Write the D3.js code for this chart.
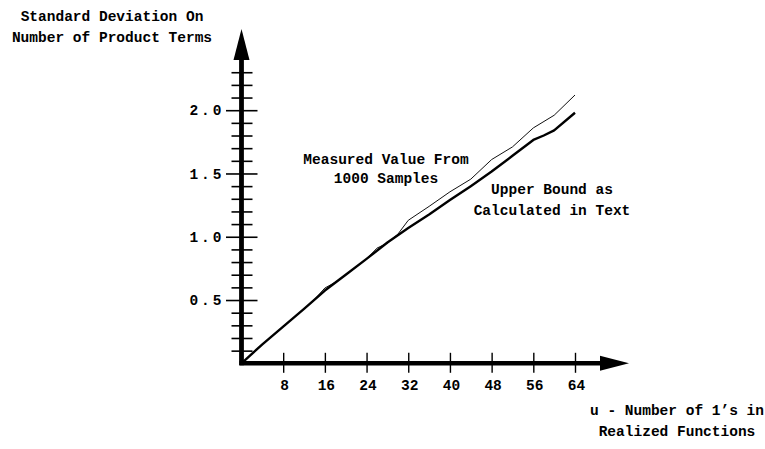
<!DOCTYPE html>
<html>
<head>
<meta charset="utf-8">
<script src="https://cdn.jsdelivr.net/npm/d3@7/dist/d3.min.js"></script>
<style>
  html, body { margin: 0; padding: 0; background: #ffffff; }
  svg { display: block; }
  text { font-family: "Liberation Mono", "DejaVu Sans Mono", monospace; font-weight: bold; fill: #000; }
</style>
</head>
<body>
<svg id="chart" width="765" height="449"></svg>
<script>
// u: number of 1's in the realized function
const boundU      = [0, 4, 8, 12, 16, 20, 24, 28, 32, 36, 40, 44, 48, 52, 56, 58, 60, 64];
const boundValues = [0, 0.15, 0.29, 0.43, 0.575, 0.70, 0.825, 0.955, 1.07, 1.175, 1.29, 1.40, 1.515, 1.64, 1.765, 1.80, 1.84, 1.98];

const measuredU      = [0, 4, 8, 12, 14, 16, 18, 20, 24, 26, 28, 30, 32, 36, 40, 44, 48, 52, 56, 60, 64];
const measuredValues = [0, 0.15, 0.29, 0.43, 0.505, 0.595, 0.64, 0.70, 0.825, 0.91, 0.95, 1.02, 1.13, 1.24, 1.355, 1.455, 1.61, 1.71, 1.86, 1.96, 2.12];

const xTicks = [8, 16, 24, 32, 40, 48, 56, 64];
const yTicks = d3.range(1, 24).map(i => i / 10);      // 0.1 .. 2.3
const yLabelTicks = [0.5, 1.0, 1.5, 2.0];

const svg = d3.select("#chart");

const x = d3.scaleLinear().domain([0, 64]).range([241.5, 575]);
const y = d3.scaleLinear().domain([0, 2]).range([363.3, 110.2]);

const x0 = x(0), y0 = y(0);
const isMajor = d => yLabelTicks.some(v => Math.abs(v - d) < 1e-9);

// ---- y axis: ticks crossing the shaft, labels at every 0.5 ----
const yAxis = d3.axisLeft(y)
  .tickValues(yTicks)
  .tickSize(0)
  .tickPadding(0)
  .tickFormat(d => isMajor(d) ? d3.format(".1f")(d) : "");

const gy = svg.append("g").attr("transform", `translate(${x0},0)`).call(yAxis);
gy.select(".domain").remove();
gy.selectAll(".tick line")
  .attr("x1", d => isMajor(d) ? -15.5 : -10)
  .attr("x2", d => isMajor(d) ? 16 : 11)
  .attr("stroke", "#000")
  .attr("stroke-width", 1.6);
gy.selectAll(".tick text")
  .attr("x", -17)
  .attr("dy", "0.33em")
  .attr("text-anchor", "end")
  .style("letter-spacing", "3px")
  .style("font-size", "14.5px")
  .style("font-family", null);

// ---- x axis: ticks crossing the shaft ----
const xAxis = d3.axisBottom(x)
  .tickValues(xTicks)
  .tickSize(0)
  .tickPadding(0)
  .tickFormat(d3.format("d"));

const gx = svg.append("g").attr("transform", `translate(0,${y0})`).call(xAxis);
gx.select(".domain").remove();
gx.selectAll(".tick line")
  .attr("y1", -10.5)
  .attr("y2", 9.5)
  .attr("stroke", "#000")
  .attr("stroke-width", 1.4);
gx.selectAll(".tick text")
  .attr("x", 1)
  .attr("y", 27)
  .attr("dy", 0)
  .attr("text-anchor", "middle")
  .style("font-size", "14.5px")
  .style("font-family", null);

// ---- heavy axis shafts with arrowheads ----
const axisG = svg.append("g");
axisG.append("line")
  .attr("x1", x0).attr("y1", y0 + 2)
  .attr("x2", x0).attr("y2", 58)
  .attr("stroke", "#000").attr("stroke-width", 4.8);
axisG.append("line")
  .attr("x1", x0 - 2).attr("y1", y0)
  .attr("x2", 602).attr("y2", y0)
  .attr("stroke", "#000").attr("stroke-width", 4.5);
axisG.append("path")
  .attr("d", `M${x0},29 L${x0 + 8},60 L${x0 - 8},60 Z`)
  .attr("fill", "#000");
axisG.append("path")
  .attr("d", `M629,${y0} L600,${y0 - 7.5} L600,${y0 + 7.5} Z`)
  .attr("fill", "#000");

// ---- curves ----
const line = d3.line()
  .x(d => x(d[0]))
  .y(d => y(d[1]));

const boundData = boundU.map((u, i) => [u, boundValues[i]]);
const measuredData = measuredU.map((u, i) => [u, measuredValues[i]]);

svg.append("path")
  .datum(measuredData)
  .attr("d", line)
  .attr("fill", "none")
  .attr("stroke", "#111")
  .attr("stroke-width", 1)
  .attr("stroke-linejoin", "round");

svg.append("path")
  .datum(boundData)
  .attr("d", line)
  .attr("fill", "none")
  .attr("stroke", "#000")
  .attr("stroke-width", 2.4)
  .attr("stroke-linejoin", "round");

// ---- labels ----
function block(lines, cx, baseline, step) {
  const t = svg.append("text")
    .attr("text-anchor", "middle")
    .style("font-size", "14.5px");
  lines.forEach((s, i) => {
    t.append("tspan").attr("x", cx).attr("y", baseline + i * step).text(s);
  });
}

block(["Standard Deviation On", "Number of Product Terms"], 112, 21, 20.7);
block(["Measured Value From", "1000 Samples"], 386, 163.5, 19.5);
block(["Upper Bound as", "Calculated in Text"], 552, 193.5, 21.5);
block(["u - Number of 1\u2019s in", "Realized Functions"], 677, 415, 20.5);
</script>
</body>
</html>
